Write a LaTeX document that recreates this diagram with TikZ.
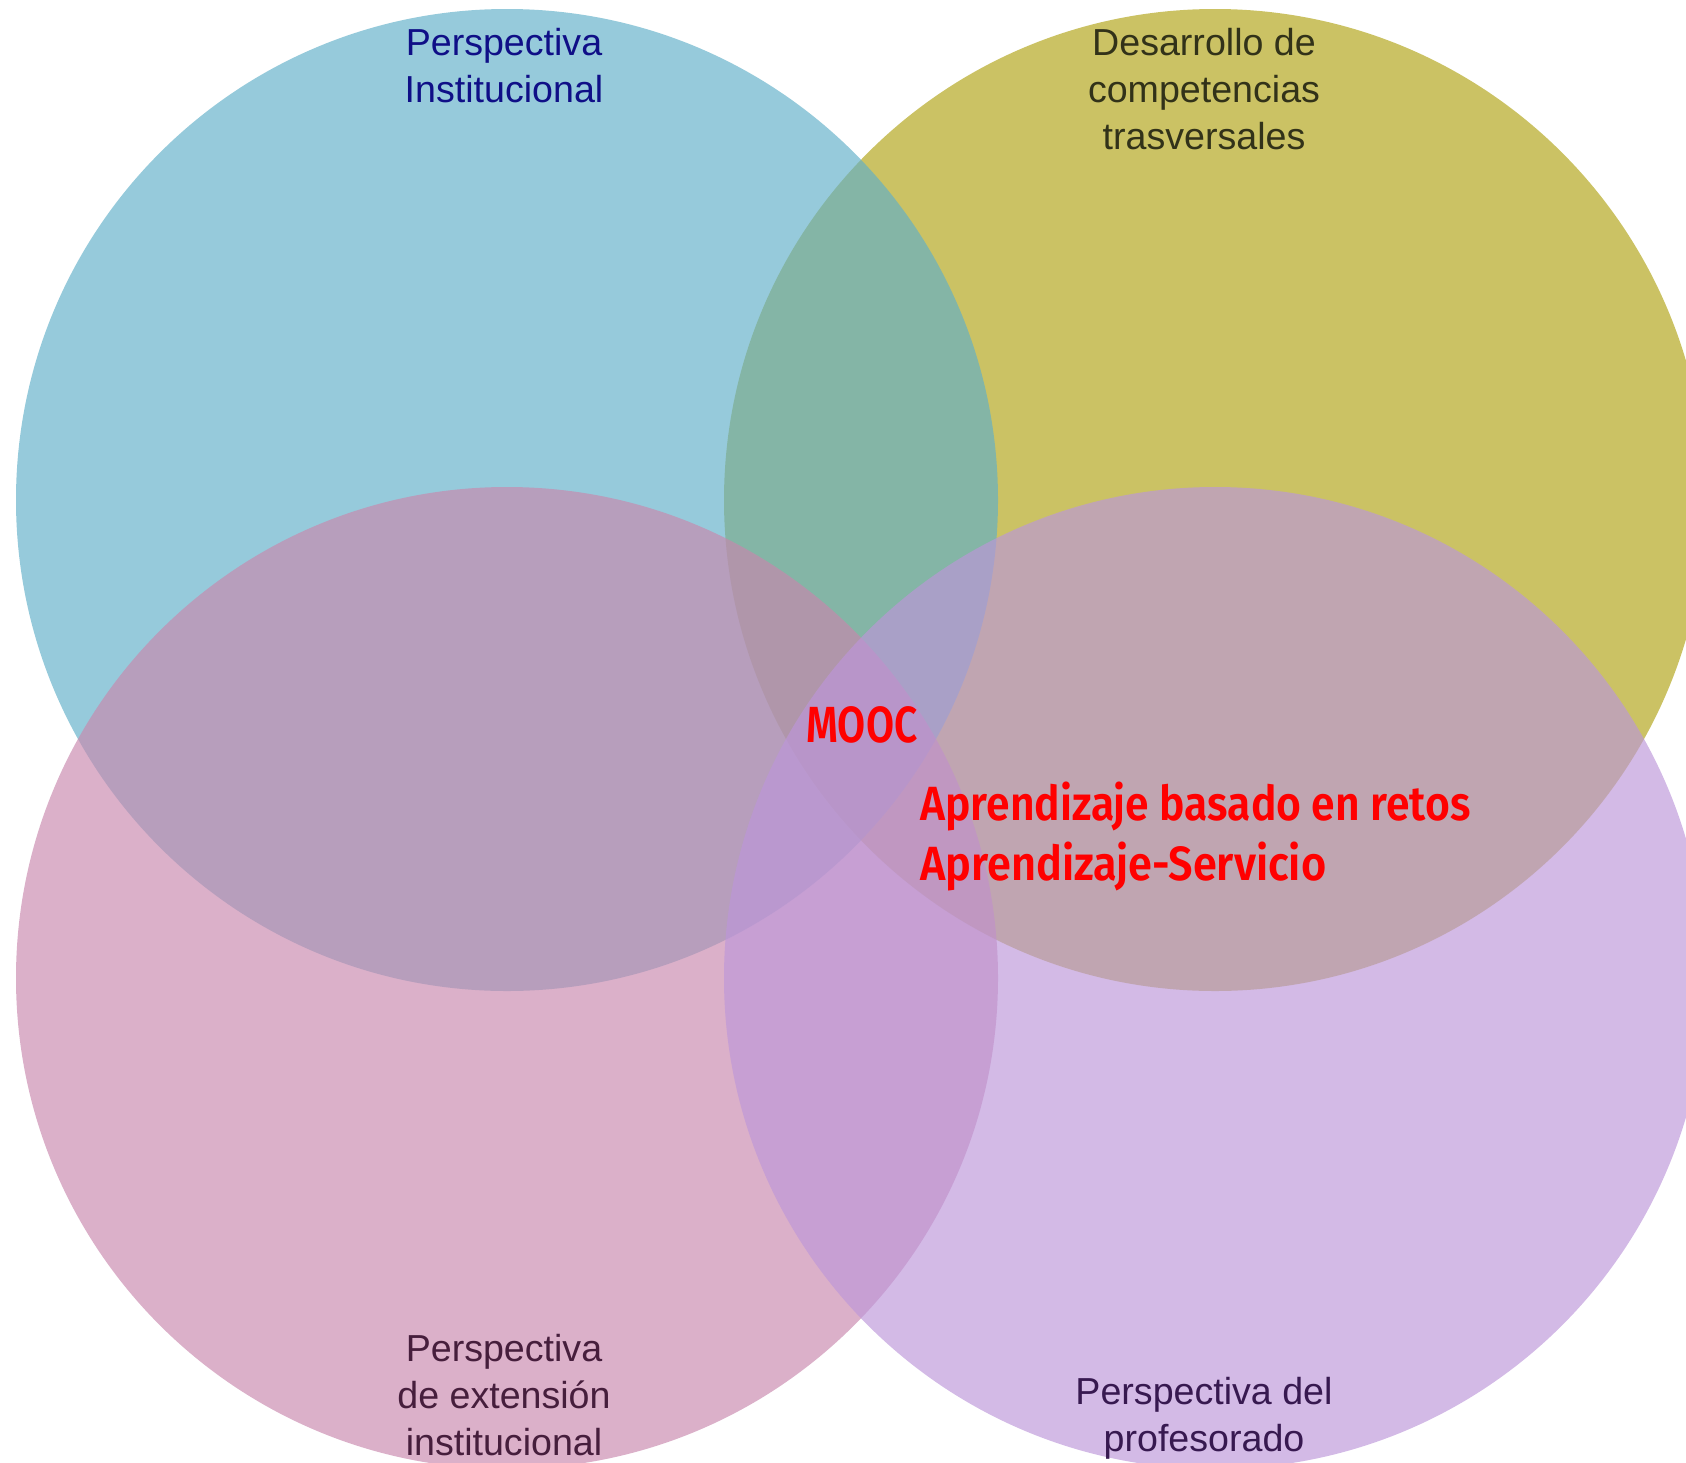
\documentclass[tikz,border=0pt]{standalone}
\usepackage{fontspec}
\usepackage{graphicx}
\setmainfont{Liberation Sans}
\newfontfamily\redfont{Fira Sans SemiBold}
\definecolor{cyellow}{RGB}{176,163,20}
\definecolor{cblue}{RGB}{96,175,200}
\definecolor{cpink}{RGB}{200,135,173}
\definecolor{cpurple}{RGB}{188,150,217}
\definecolor{tnavy}{RGB}{15,15,135}
\definecolor{tolive}{RGB}{50,50,25}
\definecolor{tpink}{RGB}{70,30,60}
\definecolor{tpurple}{RGB}{55,25,80}
\definecolor{tred}{RGB}{255,0,0}
\begin{document}
\begin{tikzpicture}[x=0.5pt,y=-0.5pt,
  circ/.style={fill opacity=0.66},
  lbl/.style={align=center, inner sep=0pt, anchor=base, font=\fontsize{18.8pt}{23.5pt}\selectfont},
  redlbl/.style={inner sep=0pt, anchor=base west, text=tred}]
\useasboundingbox (0,0) rectangle (1686,1462);
\clip (0,0) rectangle (1686,1462);
\fill[cyellow, circ] (1215,500) circle[radius=491];
\fill[cblue, circ] (507,500) circle[radius=491];
\fill[cpink, circ] (507,978) circle[radius=491];
\fill[cpurple, circ] (1215,978) circle[radius=491];
% base anchor = baseline of the last line
\node[lbl, text=tnavy] (inst) at (504,102) {Perspectiva\\Institucional};
\node[lbl, text=tolive] (comp) at (1204,149) {Desarrollo de\\competencias\\trasversales};
\node[lbl, text=tpink] (ext) at (504,1455) {Perspectiva\\de extensión\\institucional};
\node[lbl, text=tpurple] (prof) at (1204,1451) {Perspectiva del\\profesorado};
\node[redlbl, font=\redfont\fontsize{25.4pt}{30pt}\selectfont] (mooc) at (806,742) {\resizebox{55.5pt}{\height}{MOOC}};
\node[redlbl, font=\redfont\fontsize{24pt}{30pt}\selectfont] (retos) at (920,820) {\resizebox{275pt}{\height}{Aprendizaje basado en retos}};
\node[redlbl, font=\redfont\fontsize{24pt}{30pt}\selectfont] (aps) at (920,880) {\resizebox{203pt}{\height}{Aprendizaje-Servicio}};
\end{tikzpicture}
\end{document}
